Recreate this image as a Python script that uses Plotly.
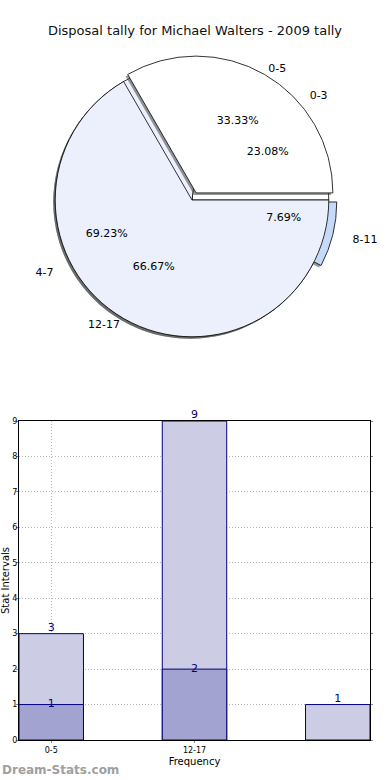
import plotly.graph_objects as go

title = "Disposal tally for Michael Walters - 2009 tally"

# Pie 1
pie1_labels = ["0-3", "4-7", "8-11"]
pie1_values = [3, 9, 1]
# Pie 2
pie2_labels = ["0-5", "12-17"]
pie2_values = [1, 2]

# Bar chart
bar_outer_values = [3, 9, 1]
bar_inner_values = [1, 2]
tick_labels = ["0-5", "12-17"]

PULL = 0.06
pie1_pull = [0, 0, PULL]
pie2_pull = [PULL, 0]
pie1_colors = ["#FFFFFF", "#EBF0FC", "#C6D9F8"]
pie2_colors = ["#FFFFFF", "#EBF0FC"]

W, H = 390, 780
cx, cy, side = 192, 200, 290
def dom(dx=0, dy=0, s=side):
    x0 = (cx - s / 2 + dx) / W
    x1 = (cx + s / 2 + dx) / W
    y0 = 1 - (cy + s / 2 + dy) / H
    y1 = 1 - (cy - s / 2 + dy) / H
    return dict(x=[x0, x1], y=[y0, y1])

def start_rotation(values):
    # first slice starts at 3 o'clock and runs counterclockwise (matplotlib style)
    return 90 - 360 * values[0] / sum(values)

font = "DejaVu Sans"
fig = go.Figure()

def common(values):
    return dict(sort=False, direction="counterclockwise", rotation=start_rotation(values),
                showlegend=False, hoverinfo="skip", automargin=False)

def shadow(labels, values, pull):
    return go.Pie(labels=labels, values=values, pull=pull, domain=dom(-2, 2),
                  marker=dict(colors=["rgba(80,80,80,0.6)"] * len(values), line=dict(width=0)),
                  textinfo="none", **common(values))

def main(labels, values, pull, colors):
    return go.Pie(labels=labels, values=values, pull=pull, domain=dom(),
                  marker=dict(colors=colors, line=dict(color="#000000", width=0.8)),
                  textinfo="none", **common(values))

def pct_text(labels, values, pull, s, pos):
    # percentages sit at ~0.6 of the radius, like matplotlib's pctdistance
    return go.Pie(labels=labels, values=values, pull=pull, domain=dom(s=s),
                  marker=dict(colors=["rgba(0,0,0,0)"] * len(values), line=dict(width=0)),
                  texttemplate="%{percent:.2%}", textposition=pos,
                  insidetextorientation="horizontal",
                  textfont=dict(family=font, size=11, color="#000000"), **common(values))

def outer_labels(labels, values, pull, s):
    return go.Pie(labels=labels, values=values, pull=pull, domain=dom(s=s),
                  marker=dict(colors=["rgba(0,0,0,0)"] * len(values), line=dict(width=0)),
                  textinfo="label", textposition="outside",
                  textfont=dict(family=font, size=11, color="#000000"), **common(values))

fig.add_trace(shadow(pie1_labels, pie1_values, pie1_pull))
fig.add_trace(main(pie1_labels, pie1_values, pie1_pull, pie1_colors))
fig.add_trace(shadow(pie2_labels, pie2_values, pie2_pull))
fig.add_trace(main(pie2_labels, pie2_values, pie2_pull, pie2_colors))
fig.add_trace(pct_text(pie1_labels, pie1_values, pie1_pull, 146, "outside"))
fig.add_trace(pct_text(pie2_labels, pie2_values, pie2_pull, 325, "inside"))
fig.add_trace(outer_labels(pie1_labels, pie1_values, pie1_pull, side + 34))
fig.add_trace(outer_labels(pie2_labels, pie2_values, pie2_pull, side + 2))

# Bars
x_outer = list(range(len(bar_outer_values)))
x_inner = list(range(len(bar_inner_values)))
fig.add_trace(go.Bar(x=x_outer, y=bar_outer_values, width=0.45,
                     marker=dict(color="#CCCCE4", line=dict(color="#000080", width=1)),
                     showlegend=False, hoverinfo="skip"))
fig.add_trace(go.Bar(x=x_inner, y=bar_inner_values, width=0.45,
                     marker=dict(color="#A3A3D1", line=dict(color="#000080", width=1)),
                     showlegend=False, hoverinfo="skip"))
fig.add_trace(go.Scatter(x=x_outer, y=bar_outer_values, mode="text",
                         text=[str(v) for v in bar_outer_values], textposition="top center",
                         textfont=dict(family=font, size=11, color="#000080"),
                         showlegend=False, hoverinfo="skip", cliponaxis=False))
fig.add_trace(go.Scatter(x=x_inner, y=bar_inner_values, mode="text",
                         text=[str(v) for v in bar_inner_values], textposition="middle center",
                         textfont=dict(family=font, size=11, color="#000080"),
                         showlegend=False, hoverinfo="skip", cliponaxis=False))

grid = dict(showgrid=True, gridcolor="#b8b8b8", griddash="1px,2px", gridwidth=1)
fig.update_layout(
    width=W, height=H,
    margin=dict(l=0, r=0, t=0, b=0, autoexpand=False),
    paper_bgcolor="white", plot_bgcolor="white",
    barmode="overlay",
    font=dict(family=font, color="#000000"),
    title=dict(text=title, x=0.5, xanchor="center", y=1 - 30 / H, yanchor="middle",
               font=dict(family=font, size=13, color="#111111")),
    xaxis=dict(domain=[19 / W, 370 / W], range=[-0.225, 2.225],
               tickvals=x_inner, ticktext=tick_labels,
               tickfont=dict(family=font, size=8, color="#000000"),
               showline=True, linecolor="#000000", linewidth=1, mirror=True,
               ticks="outside", ticklen=2, tickcolor="#888888",
               zeroline=False, automargin=False,
               title=dict(text="Frequency", font=dict(family=font, size=10), standoff=4),
               **grid),
    yaxis=dict(domain=[1 - 740 / H, 1 - 421 / H], range=[0, 9], dtick=1,
               tickfont=dict(family=font, size=8, color="#000000"),
               showline=True, linecolor="#000000", linewidth=1, mirror="allticks",
               ticks="outside", ticklen=2, tickcolor="#888888", ticklabelstandoff=-3,
               zeroline=False, automargin=False,
               title=dict(text="Stat Intervals", font=dict(family=font, size=10), standoff=0),
               **grid),
    annotations=[dict(text="<b>Dream-Stats.com</b>", x=0, y=1 - 770 / H, xref="paper", yref="paper",
                      xanchor="left", yanchor="middle", showarrow=False,
                      font=dict(family=font, size=12, color="#A0A0A0"))],
)

fig.write_html("out.html", config={"displayModeBar": False},
               post_script="document.body.style.margin='0';")
